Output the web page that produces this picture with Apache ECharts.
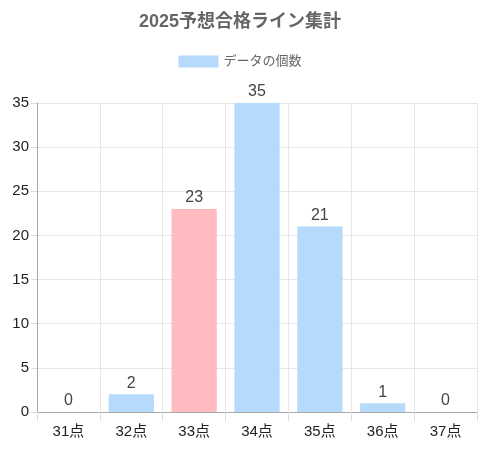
<!DOCTYPE html>
<html><head><meta charset="utf-8">
<script src="https://cdn.jsdelivr.net/npm/echarts@6/dist/echarts.min.js"></script>
<style>html,body{margin:0;padding:0;background:#fff}#c{width:480px;height:450px}</style>
</head><body><div id="c"></div>
<script>
const categories = ['31点','32点','33点','34点','35点','36点','37点'];
const counts = [0, 2, 23, 35, 21, 1, 0];
const highlightIndex = 2;
const yTicks = { min: 0, max: 35, interval: 5 };

const chart = echarts.init(document.getElementById('c'), null, {renderer: 'canvas'});
const font = '"Liberation Sans", Arial, "Noto Sans CJK JP", sans-serif';
chart.setOption({
  animation: false,
  title: {
    text: '2025予想合格ライン集計', left: 'center', top: 8,
    textStyle: {color: '#666', fontSize: 18, fontWeight: 'bold', fontFamily: font}
  },
  legend: {
    top: 50, left: 'center', itemWidth: 40, itemHeight: 12, itemGap: 8,
    icon: 'rect',
    textStyle: {color: '#666', fontSize: 13, fontFamily: font},
    data: [{name: 'データの個数', itemStyle: {color: '#b6dafb'}}]
  },
  grid: {left: 37, right: 3, top: 103, bottom: 38, containLabel: false},
  xAxis: {
    type: 'category', data: categories, boundaryGap: true,
    axisLine: {lineStyle: {color: '#aaa'}},
    axisTick: {show: true, length: 9, lineStyle: {color: '#ddd'}},
    splitLine: {show: true, lineStyle: {color: '#e6e6e6'}},
    axisLabel: {color: '#222', fontSize: 15, margin: 12, fontFamily: font}
  },
  yAxis: {
    type: 'value', min: yTicks.min, max: yTicks.max, interval: yTicks.interval,
    axisLine: {show: true, lineStyle: {color: '#aaa'}},
    axisTick: {show: true, length: 6, lineStyle: {color: '#ddd'}},
    splitLine: {lineStyle: {color: '#e6e6e6'}},
    axisLabel: {color: '#222', fontSize: 15, margin: 8, fontFamily: font}
  },
  series: [{
    name: 'データの個数', type: 'bar', barWidth: '72%',
    data: counts.map((v, i) => ({
      value: v,
      itemStyle: {color: i === highlightIndex ? '#ffbbbf' : '#b6dafb'}
    })),
    itemStyle: {color: '#b6dafb'},
    label: {show: true, position: 'top', color: '#444', fontSize: 16, distance: 3, fontFamily: font}
  }]
});
</script></body></html>
